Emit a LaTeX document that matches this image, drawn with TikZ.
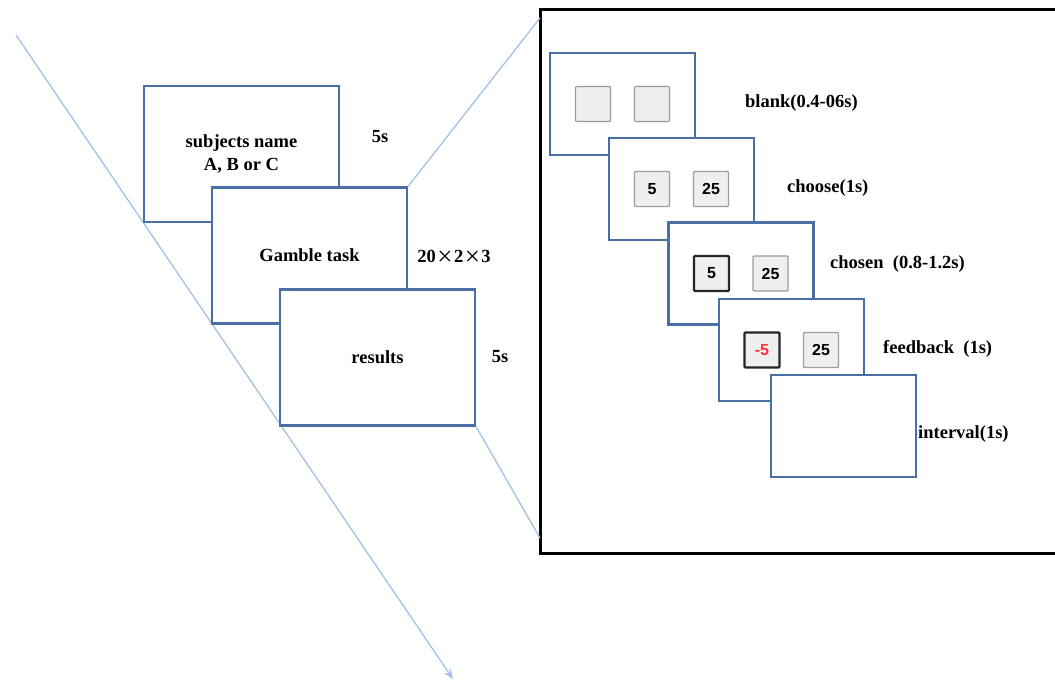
\documentclass[tikz,border=0pt]{standalone}
\usepackage{fontspec}
\setmainfont{Liberation Serif}
\newfontfamily\numfont{Liberation Sans}
\usetikzlibrary{arrows.meta, calc, positioning}
\definecolor{frameblue}{HTML}{4A6FA5}
\definecolor{lineblue}{HTML}{A3C1E8}
\definecolor{cellgray}{HTML}{EFEFEF}
\definecolor{cellline}{HTML}{9C9C9C}
\definecolor{numred}{HTML}{FF3333}
\newcommand{\bigx}{\hspace{1.5pt}\raisebox{-2.5pt}{\fontsize{27}{27}\selectfont\mdseries ×}\hspace{1.5pt}}

\begin{document}
\begin{tikzpicture} [x=1pt, y=-1pt,
	screen/.style={draw=frameblue, line width=2.2pt, fill=white,
		minimum width=195pt, minimum height=136pt, align=center,
		font=\fontsize{18.5}{23}\selectfont\bfseries},
	small screen/.style={screen, minimum width=145pt, minimum height=102pt},
	cell/.style={draw=cellline, line width=1.4pt, fill=cellgray, inner sep=0pt, rounded corners=1pt,
		minimum width=35pt, minimum height=35pt, font=\fontsize{16}{16}\selectfont\numfont\bfseries},
	picked/.style={cell, draw=black!85, line width=2.2pt},
	lbl/.style={inner sep=0pt, font=\fontsize{18.5}{22}\selectfont\bfseries},
	zoomline/.style={draw=lineblue, line width=1.3pt}]
	\useasboundingbox (0,0) rectangle (1055,682);

	% time axis
	\coordinate (tstart) at (16,35);
	\coordinate (tend) at (453,679);
	\draw[zoomline, -{Stealth[length=10pt, width=8pt]}] (tstart) -- (tend);

	% left: session screens
	\node[screen] (subjects) at (241.5,154) {subjects name\\A, B or C};
	\node[screen] (gamble) at (309.5,255.5) {Gamble task};
	\node[screen] (results) at (377.5,357.5) {results};
	\node[lbl] (t1) at (380,137) {5s};
	\node[lbl] (t2) at (454,258) {20\bigx2\bigx3};
	\node[lbl] (t3) at (500,357) {5s};

	% right: one trial
	\node[draw, line width=3pt, outer sep=0pt, minimum width=520pt, minimum height=543pt] (zoom) at (800,281.5) {};
	\foreach \n/\x/\y in {fa/622.5/104, fb/681.5/189, fc/741/273.5, fd/791.5/350, fe/843.5/426}
		\node[small screen] (\n) at (\x,\y) {};

	\node[cell] (fa1) at ([xshift=-29.5pt]fa.center) {};
	\node[cell] (fa2) at ([xshift=29.5pt]fa.center) {};
	\node[cell] (fb1) at ([xshift=-29.5pt]fb.center) {5};
	\node[cell] (fb2) at ([xshift=29.5pt]fb.center) {25};
	\node[picked] (fc1) at ([xshift=-29.5pt]fc.center) {5};
	\node[cell] (fc2) at ([xshift=29.5pt]fc.center) {25};
	\node[picked, text=numred] (fd1) at ([xshift=-29.5pt]fd.center) {-5};
	\node[cell] (fd2) at ([xshift=29.5pt]fd.center) {25};
	% the last screen is drawn again on top
	\node[small screen] at (fe) {};

	\node[lbl, anchor=west] (la) at (745,103) {blank(0.4-06s)};
	\node[lbl, anchor=west] (lb) at (787,188) {choose(1s)};
	\node[lbl, anchor=west] (lc) at (830,264) {chosen\ \ (0.8-1.2s)};
	\node[lbl, anchor=west] (ld) at (883,349) {feedback\ \ (1s)};
	\node[lbl, anchor=west] (le) at (918,434) {interval(1s)};

	% zoom lines
	\draw[zoomline] (gamble.north east) -- ([yshift=-8pt]zoom.north west);
	\draw[zoomline] (results.south east) -- ([yshift=15pt]zoom.south west);
\end{tikzpicture}
\end{document}
